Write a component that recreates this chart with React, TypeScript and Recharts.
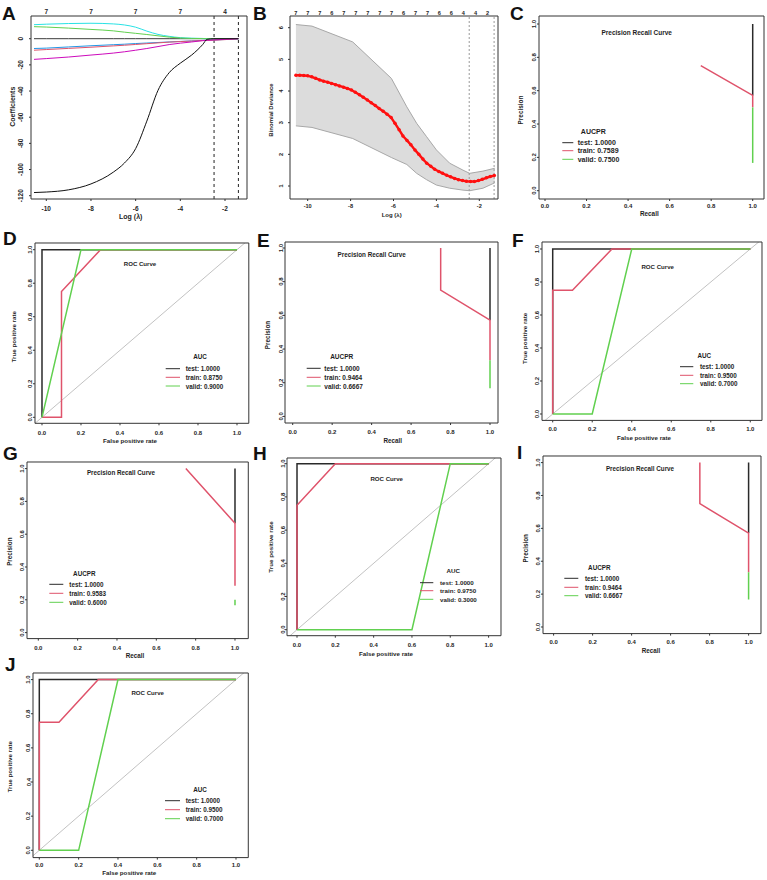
import React from 'react';
import { ComposedChart, Line, Area, XAxis, YAxis, ReferenceLine } from 'recharts';

const FONT = '"Liberation Sans", Arial, Helvetica, sans-serif';
const INK = '#1e1e1e';
const AXIS = '#333333';
const COL_TEST = '#2a2a2a';
const COL_TRAIN = '#DF536B';
const COL_VALID = '#61D04F';

// ---------- Panel A : coefficient paths ----------
const aLogLambda = [-10.55, -10, -9, -8, -7, -6.5, -6, -5.5, -5, -4.5, -4, -3.5, -3, -2.8, -2.5, -2, -1.4];
const aCoefBlack = [-117.6, -117.2, -115.5, -111, -102, -95, -84, -63, -39.5, -26, -18.7, -12.6, -4.5, -0.5, 0, 0, 0];
const aCoefZero = [0, 0, 0, 0, 0, 0, 0, 0, 0, 0, 0, 0, 0, 0, 0, 0, 0];
const aCoefCyan = [10.7, 11.1, 11.6, 11.8, 11.3, 10.5, 8.8, 5.8, 3.3, 1.8, 0.8, 0.4, 0.2, 0, 0, 0, 0];
const aCoefGreen = [9.2, 8.9, 8.1, 7.1, 6.0, 5.0, 4.1, 3.2, 2.2, 1.2, 0.5, 0.2, 0.1, 0, 0, 0, 0];
const aCoefBlue = [-7.5, -7.2, -6.3, -5.4, -4.6, -4.2, -3.7, -3.3, -2.9, -2.5, -2.1, -1.7, -1.3, -1.2, -1.0, -0.6, 0];
const aCoefRed = [-8.8, -8.3, -7.4, -6.5, -5.5, -5.0, -4.4, -3.8, -3.2, -2.6, -2.2, -1.8, -1.4, -1.3, -1.1, -0.7, 0];
const aCoefMagenta = [-15.8, -15.2, -14, -12.5, -11, -10, -8.8, -7.5, -6, -4.5, -3.4, -2.5, -1.5, -1.2, -0.9, -0.5, 0];
const aXTicks = [-10, -8, -6, -4, -2];
const aYTicks = [-120, -100, -80, -60, -40, -20, 0];
const aTopLabels = ['7', '7', '7', '7', '4'];
const aCutoffs = [-2.49, -1.4];

// ---------- Panel B : cross-validation deviance ----------
const bLogLambda = [-10.55, -10.37, -10.18, -10.0, -9.81, -9.63, -9.44, -9.26, -9.07, -8.89, -8.7, -8.52, -8.33, -8.15, -7.96, -7.78, -7.59, -7.41, -7.22, -7.04, -6.85, -6.67, -6.48, -6.3, -6.11, -5.93, -5.74, -5.56, -5.37, -5.19, -5.0, -4.82, -4.63, -4.45, -4.26, -4.08, -3.89, -3.71, -3.52, -3.34, -3.15, -2.97, -2.78, -2.6, -2.41, -2.23, -2.04, -1.86, -1.67, -1.49, -1.3];
const bDeviance = [4.50, 4.50, 4.49, 4.48, 4.45, 4.40, 4.35, 4.31, 4.28, 4.24, 4.20, 4.16, 4.12, 4.08, 4.03, 3.96, 3.88, 3.80, 3.72, 3.63, 3.54, 3.45, 3.36, 3.27, 3.16, 2.98, 2.78, 2.58, 2.44, 2.30, 2.14, 2.00, 1.85, 1.72, 1.62, 1.53, 1.46, 1.40, 1.34, 1.29, 1.24, 1.20, 1.17, 1.15, 1.14, 1.14, 1.17, 1.21, 1.26, 1.30, 1.33];
const bBandLambda = [-10.55, -9.8, -7.9, -6.1, -5.38, -4.92, -4.46, -4.0, -3.38, -2.76, -2.45, -1.83, -1.28];
const bUpper = [6.1, 6.05, 5.55, 4.4, 3.5, 2.98, 2.56, 2.14, 1.72, 1.5, 1.4, 1.47, 1.56];
const bLower = [2.9, 2.85, 2.5, 1.9, 1.68, 1.4, 1.2, 1.03, 0.93, 0.87, 0.85, 0.93, 1.1];
const bXTicks = [-10, -8, -6, -4, -2];
const bYTicks = [1, 2, 3, 4, 5, 6];
const bTopLambda = [-10.55, -9.99, -9.43, -8.88, -8.32, -7.76, -7.2, -6.64, -6.09, -5.53, -4.97, -4.41, -3.86, -3.3, -2.74, -2.18, -1.62];
const bTopLabels = ['7', '7', '7', '6', '7', '7', '7', '7', '7', '6', '7', '7', '6', '6', '4', '4', '2'];
const bCutoffs = [-2.47, -1.31];

// ---------- PR / ROC curves ----------
const unitTicks = [0, 0.2, 0.4, 0.6, 0.8, 1.0];

const cTest = [[1, 1], [1, 0.5714]];
const cTrain = [[0.75, 0.75], [1, 0.5714], [1, 0.5]];
const cValid = [[1, 0.5], [1, 0.1667]];
const cScores = ['1.0000', '0.7589', '0.7500'];

const dTest = [[0, 0], [0, 1], [1, 1]];
const dTrain = [[0, 0], [0.1, 0], [0.1, 0.75], [0.3, 1], [1, 1]];
const dValid = [[0, 0], [0.2, 1], [1, 1]];
const dScores = ['1.0000', '0.8750', '0.9000'];

const eTest = [[1, 1], [1, 0.5714]];
const eTrain = [[0.75, 1], [0.75, 0.75], [1, 0.5714], [1, 0.3333]];
const eValid = [[1, 0.3333], [1, 0.1667]];
const eScores = ['1.0000', '0.9464', '0.6667'];

const fTest = [[0, 0], [0, 1], [1, 1]];
const fTrain = [[0, 0], [0, 0.75], [0.1, 0.75], [0.3, 1], [1, 1]];
const fValid = [[0, 0], [0.2, 0], [0.4, 1], [1, 1]];
const fScores = ['1.0000', '0.9500', '0.7000'];

const gTest = [[1, 1], [1, 0.6667]];
const gTrain = [[0.75, 1], [1, 0.6667], [1, 0.2857]];
const gValid = [[1, 0.2], [1, 0.1667]];
const gScores = ['1.0000', '0.9583', '0.6000'];

const hTest = [[0, 0], [0, 1], [1, 1]];
const hTrain = [[0, 0], [0, 0.75], [0.2, 1], [1, 1]];
const hValid = [[0, 0], [0.6, 0], [0.8, 1], [1, 1]];
const hScores = ['1.0000', '0.9750', '0.3000'];

const iTest = [[1, 1], [1, 0.5714]];
const iTrain = [[0.75, 1], [0.75, 0.75], [1, 0.5714], [1, 0.3333]];
const iValid = [[1, 0.3333], [1, 0.1667]];
const iScores = ['1.0000', '0.9464', '0.6667'];

const jTest = [[0, 0], [0, 1], [1, 1]];
const jTrain = [[0, 0], [0, 0.75], [0.1, 0.75], [0.3, 1], [1, 1]];
const jValid = [[0, 0], [0.2, 0], [0.4, 1], [1, 1]];
const jScores = ['1.0000', '0.9500', '0.7000'];

// ---------- helpers ----------
const zip = (xs: number[], ys: number[]) => xs.map((x, i) => ({ x, y: ys[i] }));
const pxy = (pts: number[][]) => pts.map(([x, y]) => ({ x, y }));
const lin = (a: number[], p: number) => a[0] + ((p - a[1]) * (a[2] - a[0])) / (a[3] - a[1]);
const f1 = (v: number) => v.toFixed(1);
const fi = (v: number) => String(v);

function curves(test: number[][], train: number[][], valid: number[][], roc: boolean) {
  const els: any[] = [];
  if (roc) {
    els.push(
      <ReferenceLine key="diag" segment={[{ x: -1, y: -1 }, { x: 2, y: 2 }]} stroke="#c2c2c2" strokeWidth={1} ifOverflow="hidden" />
    );
  }
  const series = [
    ['test', test, COL_TEST],
    ['train', train, COL_TRAIN],
    ['valid', valid, COL_VALID],
  ] as any[];
  series.forEach(([k, d, c]) => {
    els.push(
      <Line key={k} data={pxy(d)} dataKey="y" type="linear" stroke={c} strokeWidth={1.5} dot={false} isAnimationActive={false} />
    );
  });
  return els;
}

function Panel(props: any) {
  const { box, xa, ya, xTicks, yTicks, xFmt, yFmt, fs, xOff, yOff, top, children } = props;
  const [l, t, r, b] = box;
  const M = 30;
  const xDom = [lin(xa, l), lin(xa, r)];
  const yDom = [lin(ya, b), lin(ya, t)];
  const W = r - l + 2 * M;
  const H = b - t + 2 * M;
  const xTick = (p: any) => (
    <text x={p.x} y={p.y - 2 + xOff} textAnchor="middle" dominantBaseline="central" fontSize={fs} fontWeight={700} fontFamily={FONT} fill={INK}>
      {xFmt(p.payload.value)}
    </text>
  );
  const yTick = (p: any) => {
    const cx = p.x + 2 - yOff;
    return (
      <text x={cx} y={p.y} transform={`rotate(-90 ${cx} ${p.y})`} textAnchor="middle" dominantBaseline="central" fontSize={fs} fontWeight={700} fontFamily={FONT} fill={INK}>
        {yFmt(p.payload.value)}
      </text>
    );
  };
  const topTick = (p: any) => (
    <text x={p.x} y={p.y - top.off} textAnchor="middle" dominantBaseline="central" fontSize={top.fs} fontWeight={700} fontFamily={FONT} fill={INK}>
      {top.labels[p.index]}
    </text>
  );
  return (
    <div style={{ position: 'absolute', left: l - M, top: t - M }}>
      <ComposedChart width={W} height={H} margin={{ top: 0, right: 0, bottom: 0, left: 0 }}>
        <XAxis dataKey="x" type="number" domain={xDom} allowDataOverflow ticks={xTicks} interval={0} height={M} tickSize={2} tickMargin={0} tick={xTick} stroke={AXIS} />
        <XAxis xAxisId="top" orientation="top" dataKey="x" type="number" domain={xDom} allowDataOverflow height={M} ticks={top ? top.ticks : []} interval={0} tickSize={0} tickMargin={0} tickLine={false} tick={top ? topTick : false} stroke={AXIS} />
        <YAxis type="number" domain={yDom} allowDataOverflow ticks={yTicks} interval={0} width={M} tickSize={2} tickMargin={0} tick={yTick} stroke={AXIS} />
        <YAxis yAxisId="right" orientation="right" type="number" domain={yDom} allowDataOverflow width={M} tick={false} tickLine={false} stroke={AXIS} />
        {children}
      </ComposedChart>
    </div>
  );
}

function T({ x, y, s, rot, anchor = 'middle', children }: any) {
  return (
    <text x={x} y={y} fontSize={s} fontWeight={700} fontFamily={FONT} fill={INK} textAnchor={anchor} dominantBaseline="central" transform={rot ? `rotate(-90 ${x} ${y})` : undefined}>
      {children}
    </text>
  );
}

function Letter({ x, y, children }: any) {
  return (
    <text x={x} y={y} fontSize={19} fontWeight={700} fontFamily={FONT} fill="#111">
      {children}
    </text>
  );
}

function Leg({ head, hx, hy, rows, lx, tx, fs, scores }: any) {
  const names = ['test', 'train', 'valid'];
  const cols = [COL_TEST, COL_TRAIN, COL_VALID];
  return (
    <g>
      <T x={hx} y={hy} s={fs}>{head}</T>
      {rows.map((ry: number, i: number) => (
        <g key={i}>
          <line x1={lx[0]} x2={lx[1]} y1={ry} y2={ry} stroke={cols[i]} strokeWidth={1} />
          <T x={tx} y={ry} s={fs} anchor="start">{`${names[i]}: ${scores[i]}`}</T>
        </g>
      ))}
    </g>
  );
}

export default function App() {
  const band = bBandLambda.map((x, i) => ({ x, range: [bLower[i], bUpper[i]] }));
  const aSeries = [
    [aCoefZero, '#3a3a3a'],
    [aCoefCyan, '#28E2E5'],
    [aCoefGreen, '#61D04F'],
    [aCoefBlue, '#2297E6'],
    [aCoefRed, '#DF536B'],
    [aCoefMagenta, '#CD0BBC'],
    [aCoefBlack, '#111111'],
  ] as any[];
  const pr = { xTicks: unitTicks, yTicks: unitTicks, xFmt: f1, yFmt: f1, fs: 6 };
  return (
    <div style={{ position: 'absolute', left: 0, top: 0, width: 767, height: 880, background: '#fff', overflow: 'hidden' }}>
      {/* A */}
      <Panel box={[31, 16, 247, 199]} xa={[-10, 46.3, -2, 225]} ya={[0, 38.7, -120, 195.7]} xTicks={aXTicks} yTicks={aYTicks} xFmt={fi} yFmt={fi} fs={6.5} xOff={9.3} yOff={10.3} top={{ ticks: aXTicks, labels: aTopLabels, off: 4.3, fs: 6.5 }}>
        {aCutoffs.map((c) => (
          <ReferenceLine key={'ac' + c} x={c} stroke="#222" strokeDasharray="3 3" strokeWidth={1} />
        ))}
        {aSeries.map(([ys, c], i) => (
          <Line key={'a' + i} data={zip(aLogLambda, ys)} dataKey="y" type="monotone" stroke={c} strokeWidth={1} dot={false} isAnimationActive={false} />
        ))}
      </Panel>
      {/* B */}
      <Panel box={[290, 16, 498, 199]} xa={[-10, 307.7, -2, 479.3]} ya={[6, 27.7, 1, 186]} xTicks={bXTicks} yTicks={bYTicks} xFmt={fi} yFmt={fi} fs={5.6} xOff={7} yOff={9.3} top={{ ticks: bTopLambda, labels: bTopLabels, off: 3.3, fs: 5.6 }}>
        <Area data={band} dataKey="range" type="linear" stroke="#a8a8a8" strokeWidth={1} fill="#dcdcdc" fillOpacity={1} isAnimationActive={false} />
        {bCutoffs.map((c) => (
          <ReferenceLine key={'bc' + c} x={c} stroke="#9a9a9a" strokeDasharray="2 2" strokeWidth={1} />
        ))}
        <Line data={zip(bLogLambda, bDeviance)} dataKey="y" type="linear" stroke="#ff1010" strokeWidth={2.4} dot={{ r: 1.75, fill: '#ff1010', stroke: 'none' }} isAnimationActive={false} />
      </Panel>
      {/* C */}
      <Panel box={[539, 16, 764, 199]} xa={[0, 545, 1, 752.7]} ya={[0, 190.7, 1, 24]} {...pr} xOff={6.7} yOff={5}>
        {curves(cTest, cTrain, cValid, false)}
      </Panel>
      {/* D */}
      <Panel box={[34.5, 243, 248.3, 423.3]} xa={[0, 41.5, 1, 236.5]} ya={[0, 417.3, 1, 249.7]} {...pr} xOff={9.4} yOff={4.5}>
        {curves(dTest, dTrain, dValid, true)}
      </Panel>
      {/* E */}
      <Panel box={[285, 242.3, 498, 423.3]} xa={[0, 292.7, 1, 490]} ya={[0, 416.7, 1, 248.3]} {...pr} xOff={9.4} yOff={4.2}>
        {curves(eTest, eTrain, eValid, false)}
      </Panel>
      {/* F */}
      <Panel box={[542, 242.3, 762, 420.7]} xa={[0, 552.7, 1, 750.3]} ya={[0, 414.3, 1, 249.3]} {...pr} xOff={8.6} yOff={4.6}>
        {curves(fTest, fTrain, fValid, true)}
      </Panel>
      {/* G */}
      <Panel box={[27, 461.7, 248.3, 638.3]} xa={[0, 38.3, 1, 235]} ya={[0, 632.3, 1, 468.3]} {...pr} xOff={9} yOff={5}>
        {curves(gTest, gTrain, gValid, false)}
      </Panel>
      {/* H */}
      <Panel box={[286.7, 458.3, 500.7, 636]} xa={[0, 296.7, 1, 488.3]} ya={[0, 630, 1, 464]} {...pr} xOff={9} yOff={4.3}>
        {curves(hTest, hTrain, hValid, true)}
      </Panel>
      {/* I */}
      <Panel box={[542.7, 455.7, 760.7, 633.3]} xa={[0, 553.3, 1, 748.3]} ya={[0, 626.7, 1, 462.3]} {...pr} xOff={8.4} yOff={5}>
        {curves(iTest, iTrain, iValid, false)}
      </Panel>
      {/* J */}
      <Panel box={[33, 672.7, 248.3, 857.3]} xa={[0, 39.3, 1, 236]} ya={[0, 850, 1, 679.3]} {...pr} xOff={7} yOff={4.5}>
        {curves(jTest, jTrain, jValid, true)}
      </Panel>

      <svg width={767} height={880} style={{ position: 'absolute', left: 0, top: 0, pointerEvents: 'none' }}>
        <Letter x={2} y={20}>A</Letter>
        <Letter x={253} y={20}>B</Letter>
        <Letter x={510} y={20}>C</Letter>
        <Letter x={3} y={245}>D</Letter>
        <Letter x={257} y={247}>E</Letter>
        <Letter x={512} y={247}>F</Letter>
        <Letter x={3} y={460}>G</Letter>
        <Letter x={253} y={460}>H</Letter>
        <Letter x={517} y={459}>I</Letter>
        <Letter x={5} y={671}>J</Letter>

        {/* axis labels */}
        <T x={130.7} y={216.7} s={7}>Log (λ)</T>
        <T x={12.3} y={106.7} s={7} rot>Coefficients</T>
        <T x={391.7} y={215} s={6}>Log (λ)</T>
        <T x={271} y={110} s={6} rot>Binomial Deviance</T>
        <T x={649.3} y={213.3} s={6.4}>Recall</T>
        <T x={520} y={110} s={6.4} rot>Precision</T>
        <T x={130} y={440.7} s={6.2}>False positive rate</T>
        <T x={14} y={336.7} s={6.2} rot>True positive rate</T>
        <T x={392.7} y={440.7} s={6.3}>Recall</T>
        <T x={267.3} y={335} s={6.3} rot>Precision</T>
        <T x={644} y={437.7} s={6.2}>False positive rate</T>
        <T x={524.3} y={338.3} s={6.2} rot>True positive rate</T>
        <T x={135} y={655} s={6.3}>Recall</T>
        <T x={10} y={551.7} s={6.3} rot>Precision</T>
        <T x={386} y={653.3} s={6.2}>False positive rate</T>
        <T x={270.7} y={547} s={6.2} rot>True positive rate</T>
        <T x={651} y={650} s={6.3}>Recall</T>
        <T x={525.7} y={548.3} s={6.3} rot>Precision</T>
        <T x={129.3} y={872.7} s={6.2}>False positive rate</T>
        <T x={10} y={766.7} s={6.2} rot>True positive rate</T>

        {/* titles */}
        <T x={636.7} y={32.3} s={6.5}>Precision Recall Curve</T>
        <T x={140} y={263.7} s={6.1}>ROC Curve</T>
        <T x={371.7} y={254} s={6.3}>Precision Recall Curve</T>
        <T x={657.7} y={266} s={6.1}>ROC Curve</T>
        <T x={121} y={472.7} s={6.3}>Precision Recall Curve</T>
        <T x={386.7} y={478.3} s={6.1}>ROC Curve</T>
        <T x={640} y={468.3} s={6.3}>Precision Recall Curve</T>
        <T x={147.7} y={692.3} s={6.1}>ROC Curve</T>

        {/* legends */}
        <Leg head="AUCPR" hx={593.3} hy={131} rows={[142.7, 150.7, 159.3]} lx={[562.3, 573.3]} tx={577.7} fs={7} scores={cScores} />
        <Leg head="AUC" hx={200} hy={356.7} rows={[368.7, 377.3, 386]} lx={[165.7, 180]} tx={185.7} fs={6.3} scores={dScores} />
        <Leg head="AUCPR" hx={341.7} hy={356.7} rows={[368.3, 377.3, 386]} lx={[306.7, 320.7]} tx={324.3} fs={6.5} scores={eScores} />
        <Leg head="AUC" hx={704.3} hy={355} rows={[366.7, 375.3, 383.7]} lx={[680, 693.3]} tx={700} fs={6.3} scores={fScores} />
        <Leg head="AUCPR" hx={84.3} hy={573.3} rows={[584.3, 593.3, 602.3]} lx={[49.3, 63.3]} tx={69.3} fs={6.3} scores={gScores} />
        <Leg head="AUC" hx={453.3} hy={570.7} rows={[582.7, 590.7, 599.3]} lx={[420, 433.3]} tx={440} fs={6.2} scores={hScores} />
        <Leg head="AUCPR" hx={599.3} hy={567.3} rows={[578.3, 587.3, 595.7]} lx={[564.3, 578.3]} tx={585} fs={6.3} scores={iScores} />
        <Leg head="AUC" hx={200} hy={789} rows={[800.7, 809.7, 818.7]} lx={[165, 180]} tx={185.7} fs={6.3} scores={jScores} />
      </svg>
    </div>
  );
}
